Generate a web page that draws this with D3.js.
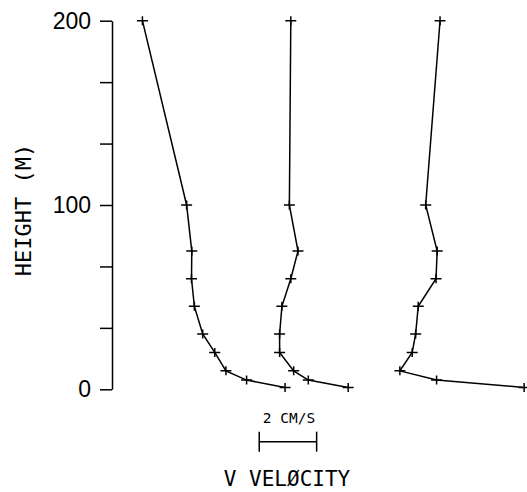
<!DOCTYPE html>
<html>
<head>
<meta charset="utf-8">
<script src="https://cdn.jsdelivr.net/npm/d3@7"></script>
<style>
  body { margin: 0; background: #fff; }
  .axis text { font-family: 'Liberation Sans', sans-serif; font-size: 23px; fill: #000; }
  .axis path, .axis line { stroke: #000; stroke-width: 1.5px; }
  .lbl { font-family: 'DejaVu Sans Mono', monospace; fill: #000; }
</style>
</head>
<body>
<div id="chart"></div>
<script>
// heights of the current meter readings (m)
let heights = [1, 5, 10, 20, 30, 45, 60, 75, 100, 200];

// V velocity (cm/s) at each height, one list per mooring
let profileA = [6.03, 4.69, 3.97, 3.58, 3.16, 2.87, 2.77, 2.78, 2.60, 1.06];
let profileB = [4.23, 2.84, 2.33, 1.84, 1.84, 1.92, 2.23, 2.48, 2.18, 2.23];
let profileC = [6.36, 3.31, 2.03, 2.46, 2.58, 2.67, 3.29, 3.33, 2.93, 3.43];

// each profile is shifted along the velocity axis (cm/s)
let offsets = [0, 4, 8];

let yTicks = [0, 100 / 3, 200 / 3, 100, 400 / 3, 500 / 3, 200];

let width = 527, height = 492;

let svg = d3.select('#chart').append('svg')
    .attr('width', width)
    .attr('height', height)

// 1 cm/s is about 28.7 px
let x = d3.scaleLinear()
    .domain([0, 14])
    .range([112, 112 + 14 * 28.7]);

let y = d3.scaleLinear()
    .domain([0, 200])
    .range([389.3, 20.7]);

// y axis
let yAxis = d3.axisLeft(y)
    .tickValues(yTicks)
    .tickSize(12)
    .tickSizeOuter(0)
    .tickPadding(9)
    .tickFormat(function (d) {
        return (Math.round(d) % 100 === 0) ? d3.format('d')(d) : '';
    })
svg.append('g')
    .attr('class', 'axis')
    .attr('transform', 'translate(' + x(0) + ',0)')
    .call(yAxis)

// y label
svg.append('text')
    .attr('class', 'lbl')
    .attr('x', -210)
    .attr('y', 31)
    .attr('font-size', '22px')
    .attr('text-anchor', 'middle')
    .attr('transform', 'rotate(-90)')
    .text('HEIGHT (M)')

// x label
svg.append('text')
    .attr('class', 'lbl')
    .attr('x', 287)
    .attr('y', 486)
    .attr('font-size', '21px')
    .attr('text-anchor', 'middle')
    .text('V VELØCITY')

// scale bar, 2 cm/s
let barStart = 5.13;
let barY = 441.7;
let bar = svg.append('g')
    .attr('stroke', '#000')
    .attr('stroke-width', 1.5)
bar.append('line')
    .attr('x1', x(barStart)).attr('x2', x(barStart + 2))
    .attr('y1', barY).attr('y2', barY)
bar.selectAll('.end')
    .data([barStart, barStart + 2])
    .enter().append('line')
    .attr('x1', function (d) { return x(d); })
    .attr('x2', function (d) { return x(d); })
    .attr('y1', barY - 10)
    .attr('y2', barY + 10)

svg.append('text')
    .attr('class', 'lbl')
    .attr('x', x(barStart + 1) + 1)
    .attr('y', 423)
    .attr('font-size', '14.5px')
    .attr('text-anchor', 'middle')
    .text('2 CM/S')

// profiles
let profiles = [profileA, profileB, profileC];

let line = d3.line()
    .x(function (d) { return x(d.v); })
    .y(function (d) { return y(d.h); })

profiles.forEach(function (p, i) {
    let pts = p.map(function (v, j) {
        return { v: v + offsets[i], h: heights[j] };
    })

    svg.append('path')
        .datum(pts)
        .attr('d', line)
        .attr('fill', 'none')
        .attr('stroke', '#000')
        .attr('stroke-width', 1.5)

    // plus markers
    svg.selectAll('.mk' + i)
        .data(pts)
        .enter().append('path')
        .attr('class', 'mk' + i)
        .attr('d', function (d) {
            let cx = x(d.v), cy = y(d.h);
            return 'M' + (cx - 5.5) + ',' + cy + 'H' + (cx + 5.5) +
                'M' + cx + ',' + (cy - 4.5) + 'V' + (cy + 4.5);
        })
        .attr('stroke', '#000')
        .attr('stroke-width', 1.5)
})
</script>
</body>
</html>
